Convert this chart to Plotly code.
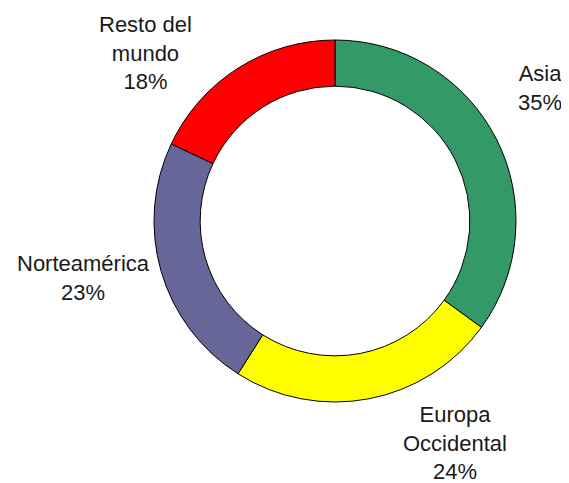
import plotly.graph_objects as go

# Data
categories = ["Asia", "Europa Occidental", "Norteamérica", "Resto del mundo"]
values = [35, 24, 23, 18]
label_text = ["Asia", "Europa<br>Occidental", "Norteamérica", "Resto del<br>mundo"]
colors = ["#339966", "#FFFF00", "#666699", "#FF0000"]

# The page body has an 8px margin, so the figure is drawn 8px in from the top-left
OFF = 8
W, H = 569 - OFF, 483 - OFF


def px_x(x):
    return (x - OFF) / W


def px_y(y):
    return 1 - (y - OFF) / H


fig = go.Figure(go.Pie(
    labels=categories,
    values=values,
    sort=False,
    direction="clockwise",
    rotation=0,
    hole=0.745,
    marker=dict(colors=colors, line=dict(color="#000000", width=1)),
    textinfo="none",
    hoverinfo="label+percent",
    showlegend=False,
    domain=dict(x=[px_x(154), px_x(516)], y=[px_y(405), px_y(37)]),
))

# label positions in pixels (centre of each text block)
label_pos = [(540, 88), (455, 443), (83, 278), (145, 53)]
total = sum(values)
for txt, v, (px, py) in zip(label_text, values, label_pos):
    fig.add_annotation(
        x=px_x(px), y=px_y(py), xref="paper", yref="paper",
        text=f"{txt}<br>{round(100 * v / total)}%",
        showarrow=False, xanchor="center", yanchor="middle", align="center",
        font=dict(family="Liberation Sans, Arial, sans-serif", size=22, color="#1a1a1a"),
    )

fig.update_layout(
    width=W, height=H,
    margin=dict(l=0, r=0, t=0, b=0),
    paper_bgcolor="white", plot_bgcolor="white",
)

fig.write_html("out.html")
